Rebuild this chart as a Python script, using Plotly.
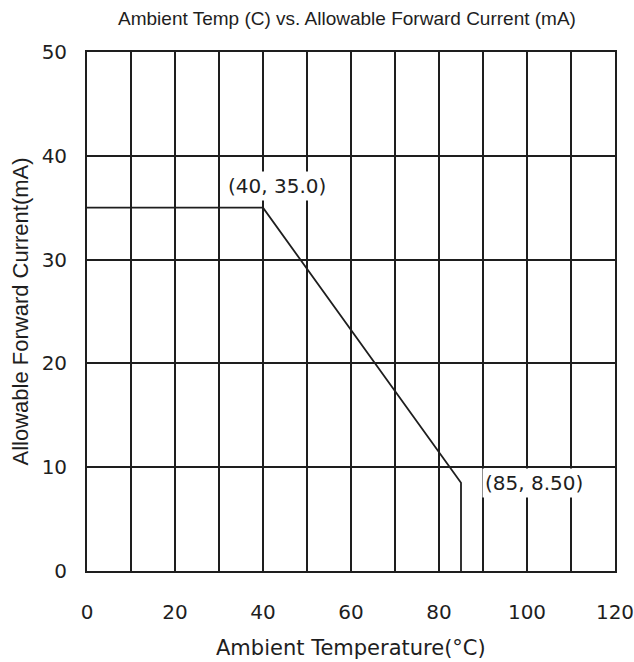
import plotly.graph_objects as go

temps = [0, 40, 85, 85]
currents = [35.0, 35.0, 8.5, 0.0]
label_points = [(40, 35.0, "(40, 35.0)"), (85, 8.5, "(85, 8.50)")]
x_ticks = [0, 20, 40, 60, 80, 100, 120]
y_ticks = [0, 10, 20, 30, 40, 50]

INK = "#1e1e1e"
fig = go.Figure()
fig.add_trace(go.Scatter(x=temps, y=currents, mode="lines",
                         line=dict(color=INK, width=1.8), showlegend=False,
                         hoverinfo="skip"))

shifts = [(14, 22), (73, 0)]
for (px, py, txt), (xs, ys) in zip(label_points, shifts):
    fig.add_annotation(x=px, y=py, text=txt, showarrow=False, xshift=xs, yshift=ys,
                       bgcolor="white", borderpad=2,
                       font=dict(family="DejaVu Sans", size=20, color=INK))

fig.add_annotation(xref="paper", yref="paper", x=0.5, y=0, yshift=-77,
                   xanchor="center", yanchor="middle", showarrow=False,
                   text="Ambient Temperature(°C)",
                   font=dict(family="DejaVu Sans", size=21, color=INK))
fig.add_annotation(xref="paper", yref="paper", x=0, y=0.5, xshift=-67,
                   xanchor="center", yanchor="middle", showarrow=False, textangle=-90,
                   text="Allowable Forward Current(mA)",
                   font=dict(family="Liberation Sans, Arial", size=22, color=INK))

fig.update_layout(
    width=634, height=662,
    margin=dict(l=87, r=19, t=52, b=91),
    paper_bgcolor="white", plot_bgcolor="white",
    title=dict(text="Ambient Temp (C) vs. Allowable Forward Current (mA)",
               x=(347) / 634, xanchor="center", y=1 - 18 / 662, yanchor="middle",
               font=dict(family="Liberation Sans, Arial", size=19, color=INK)),
    xaxis=dict(range=[0, 120], tickvals=list(range(0, 121, 10)),
               ticktext=[str(v) if v in x_ticks else "" for v in range(0, 121, 10)],
               showgrid=True, gridcolor=INK, gridwidth=1.5, automargin=False,
               showline=True, linecolor=INK, linewidth=1.8, mirror=True,
               zeroline=False, ticks="", ticklabelstandoff=22, ticklabeloverflow="allow",
               tickfont=dict(family="DejaVu Sans", size=20, color=INK)),
    yaxis=dict(range=[0, 50], tickvals=y_ticks, automargin=False,
               showgrid=True, gridcolor=INK, gridwidth=1.5,
               showline=True, linecolor=INK, linewidth=1.8, mirror=True,
               zeroline=False, ticks="", ticklabelstandoff=14, ticklabeloverflow="allow",
               tickfont=dict(family="DejaVu Sans", size=20, color=INK)),
)

fig.write_html("out.html", config={"displayModeBar": False},
               post_script="document.body.style.margin='0';document.body.style.overflow='hidden';")
